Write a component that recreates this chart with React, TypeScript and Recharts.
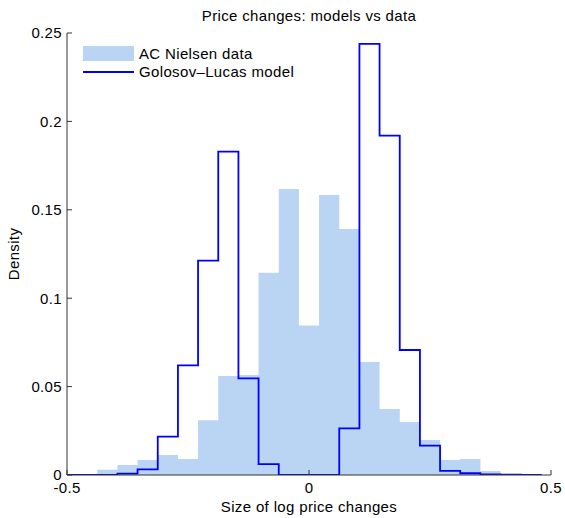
import { ComposedChart, Area, Line, XAxis, YAxis } from 'recharts'

const FONT = '"Liberation Sans", Arial, sans-serif'
const AXIS = '#333333'
const BAR_FILL = '#bad4f4'
const LINE_BLUE = '#0000ff'

// left edge of each bin (width 1/24), last entry closes the final bin
const binEdges = [
  -0.5208, -0.4792, -0.4375, -0.3958, -0.3542, -0.3125, -0.2708, -0.2292,
  -0.1875, -0.1458, -0.1042, -0.0625, -0.0208, 0.0208, 0.0625, 0.1042,
  0.1458, 0.1875, 0.2292, 0.2708, 0.3125, 0.3542, 0.3958, 0.4375, 0.4792,
]
const nielsen = [
  0, 0, 0.003, 0.0057, 0.0085, 0.0113, 0.009, 0.031,
  0.056, 0.0565, 0.1144, 0.1618, 0.0845, 0.1584, 0.1391, 0.0639,
  0.0373, 0.03, 0.0198, 0.0085, 0.009, 0.0023, 0, 0,
]
const golosov = [
  0, 0, 0, 0.0008, 0.0032, 0.0217, 0.062, 0.1212,
  0.1829, 0.0547, 0.0062, 0, 0, 0, 0.0264, 0.2438,
  0.1919, 0.0707, 0.0166, 0.0023, 0.001, 0.0004, 0.0002, 0.0001,
]
const xTicks = [-0.5, 0, 0.5]
const yTicks = [0, 0.05, 0.1, 0.15, 0.2, 0.25]

const data = binEdges.map((x, i) => ({
  x,
  nielsen: nielsen[i] ?? 0,
  golosov: golosov[i] ?? 0,
}))

const tickStyle = { fontSize: 15, fill: '#000', fontFamily: FONT, letterSpacing: 0.35 }

export default function App() {
  return (
    <div style={{ position: 'absolute', left: 0, top: 0, width: 565, height: 518, background: '#fff', fontFamily: FONT }}>
      <div style={{ position: 'absolute', left: 67, width: 484, top: 8, lineHeight: '15px', fontSize: 15, letterSpacing: 0.35, textAlign: 'center' }}>
        Price changes: models vs data
      </div>
      {/* legend */}
      <div style={{ position: 'absolute', left: 83, top: 45, fontSize: 15, letterSpacing: 0.35, zIndex: 2 }}>
        <div style={{ display: 'flex', alignItems: 'center', height: 16 }}>
          <span style={{ width: 51, height: 15, background: BAR_FILL, display: 'inline-block' }} />
          <span style={{ marginLeft: 5 }}>AC Nielsen data</span>
        </div>
        <div style={{ display: 'flex', alignItems: 'center', height: 21 }}>
          <span style={{ width: 51, height: 2, background: LINE_BLUE, display: 'inline-block' }} />
          <span style={{ marginLeft: 5 }}>Golosov–Lucas model</span>
        </div>
      </div>
      <ComposedChart width={565} height={518} data={data} margin={{ top: 33, right: 14, bottom: 3, left: 7 }}>
        <XAxis
          dataKey="x" type="number" domain={[-0.5, 0.5]} allowDataOverflow ticks={xTicks}
          height={40} tickSize={-5} tickMargin={12} stroke={AXIS} tick={tickStyle}
          label={{ value: 'Size of log price changes', position: 'insideBottom', offset: 3, style: { ...tickStyle, textAnchor: 'middle' } }}
        />
        <YAxis
          type="number" domain={[0, 0.25]} allowDataOverflow ticks={yTicks}
          width={60} tickSize={-5} tickMargin={10} stroke={AXIS} tick={tickStyle}
          label={{ value: 'Density', angle: -90, position: 'insideLeft', offset: 7, style: { ...tickStyle, textAnchor: 'middle' } }}
        />
        <Area
          dataKey="nielsen" type="stepAfter" stroke="none" fill={BAR_FILL} fillOpacity={1}
          baseValue={0} isAnimationActive={false}
        />
        <Line
          dataKey="golosov" type="stepAfter" stroke={LINE_BLUE} strokeWidth={1.8}
          dot={false} activeDot={false} isAnimationActive={false}
        />
      </ComposedChart>
    </div>
  )
}
